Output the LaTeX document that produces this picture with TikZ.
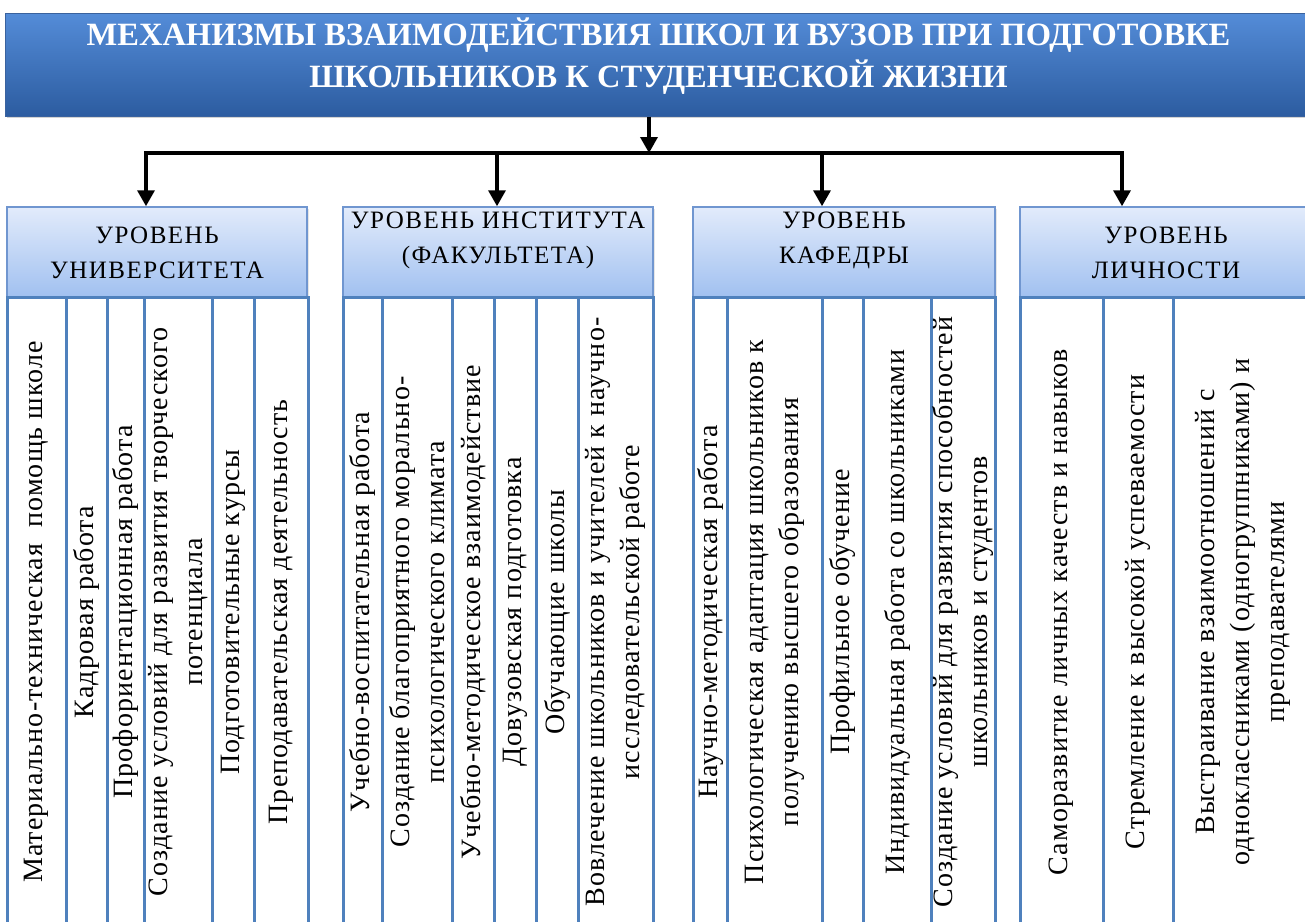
\documentclass[tikz,border=0pt]{standalone}
\usepackage{fontspec}
\setmainfont{Liberation Serif}
\newfontfamily\lvlfont[LetterSpace=6]{Liberation Serif}
\newfontfamily\cellfont[LetterSpace=4]{Liberation Serif}
\usetikzlibrary{arrows.meta, shadows}
\definecolor{titletop}{RGB}{84,140,216}
\definecolor{titlemid}{RGB}{62,118,198}
\definecolor{titlebot}{RGB}{44,92,160}
\definecolor{titleedge}{RGB}{58,98,158}
\definecolor{lvltop}{RGB}{226,235,251}
\definecolor{lvlbot}{RGB}{160,192,240}
\definecolor{lvledge}{RGB}{112,150,208}
\definecolor{cellblue}{RGB}{79,129,189}

\begin{document}
\begin{tikzpicture}[x=1pt, y=-1pt,
  title/.style={rectangle, draw=titleedge, line width=1pt,
    top color=titletop, middle color=titlemid, bottom color=titlebot,
    minimum width=1307pt, minimum height=103pt, text=white,
    font=\bfseries\fontsize{32.5}{42}\selectfont, align=center,
    text depth=23pt, drop shadow={opacity=0.35}},
  level/.style={rectangle, draw=lvledge, line width=1.5pt,
    top color=lvltop, bottom color=lvlbot, minimum height=91pt,
    font=\lvlfont\fontsize{25}{35}\selectfont, align=center,
    drop shadow={opacity=0.2, shadow xshift=2pt, shadow yshift=-2pt}},
  raised/.style={text depth=30pt},
  cell/.style={rectangle, draw=cellblue, line width=3pt, fill=white,
    rotate=90, minimum width=630pt, inner sep=0pt,
    font=\cellfont\fontsize{28}{35}\selectfont, align=center},
  arrow/.style={-{Triangle[length=16pt, width=17pt]}, line width=3.5pt}
]
\useasboundingbox (0,0) rectangle (1305,921);

\node[title] (T) at (658.5,64.5)
  {МЕХАНИЗМЫ ВЗАИМОДЕЙСТВИЯ ШКОЛ И ВУЗОВ ПРИ ПОДГОТОВКЕ\\ШКОЛЬНИКОВ К СТУДЕНЧЕСКОЙ ЖИЗНИ};

\node[level, minimum width=300pt] (L1) at (157,252.5) {УРОВЕНЬ\\УНИВЕРСИТЕТА};
\node[level, raised, minimum width=310pt] (L2) at (498,252.5) {УРОВЕНЬ ИНСТИТУТА\\(ФАКУЛЬТЕТА)};
\node[level, raised, minimum width=302pt] (L3) at (844,252.5) {УРОВЕНЬ\\КАФЕДРЫ};
\node[level, minimum width=292pt] (L4) at (1166,252.5) {УРОВЕНЬ\\ЛИЧНОСТИ};

\coordinate (t) at (649,153);
\coordinate (j1) at (146,153);
\coordinate (j2) at (497,153);
\coordinate (j3) at (822,153);
\coordinate (j4) at (1122,153);
\draw[arrow] (t |- T.south) -- (t);
\draw[line width=3.5pt, line cap=rect] (j1) -- (j4);
\draw[arrow] (j1) -- (j1 |- L1.north);
\draw[arrow] (j2) -- (j2 |- L2.north);
\draw[arrow] (j3) -- (j3 |- L3.north);
\draw[arrow] (j4) -- (j4 |- L4.north);

\node[cell, minimum height=59pt] (U1) at (36.5,612) {Материально-техническая\ \ помощь школе};
\node[cell, minimum height=41pt] (U2) at (86.5,612) {Кадровая работа};
\node[cell, minimum height=37pt] (U3) at (125.5,612) {Профориентационная работа};
\node[cell, minimum height=68pt] (U4) at (178,612) {Создание условий для развития творческого\\потенциала};
\node[cell, minimum height=42pt] (U5) at (233,612) {Подготовительные курсы};
\node[cell, minimum height=54pt] (U6) at (281,612) {Преподавательская деятельность};

\node[cell, minimum height=39pt] (I1) at (362.5,612) {Учебно-воспитательная работа};
\node[cell, minimum height=70pt] (I2) at (417,612) {Создание благоприятного морально-\\психологического климата};
\node[cell, minimum height=42pt] (I3) at (473,612) {Учебно-методическое взаимодействие};
\node[cell, minimum height=42pt] (I4) at (515,612) {Довузовская подготовка};
\node[cell, minimum height=42pt] (I5) at (557,612) {Обучающие школы};
\node[cell, minimum height=75pt] (I6) at (615.5,612) {Вовлечение школьников и учителей к научно-\\исследовательской работе};

\node[cell, minimum height=34pt] (K1) at (710,612) {Научно-методическая работа};
\node[cell, minimum height=95pt] (K2) at (774.5,612) {Психологическая адаптация школьников к\\получению высшего образования};
\node[cell, minimum height=41pt] (K3) at (842.5,612) {Профильное обучение};
\node[cell, minimum height=68pt] (K4) at (897,612) {Индивидуальная работа со школьниками};
\node[cell, minimum height=64pt] (K5) at (963,612) {Создание условий для развития способностей\\школьников и студентов};

\node[cell, minimum height=83pt] (P1) at (1061.5,612) {Саморазвитие личных качеств и навыков};
\node[cell, minimum height=70pt] (P2) at (1138,612) {Стремление к высокой успеваемости};
\node[cell, minimum height=139pt] (P3) at (1242.5,612) {Выстраивание взаимоотношений с\\одноклассниками (одногруппниками) и\\преподавателями};
\end{tikzpicture}
\end{document}
